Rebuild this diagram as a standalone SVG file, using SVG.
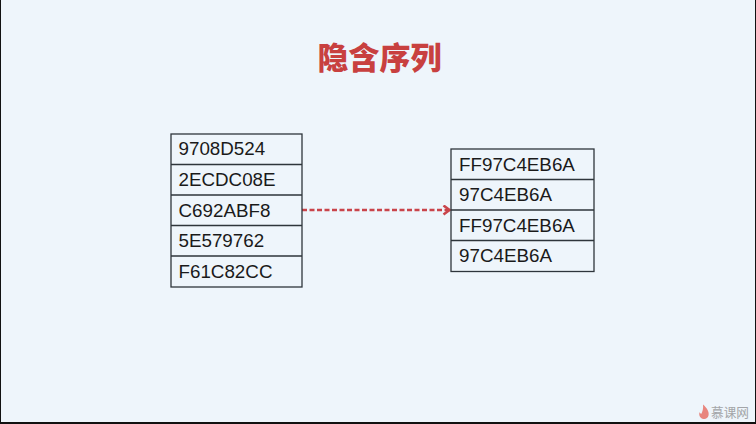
<svg xmlns="http://www.w3.org/2000/svg" width="756" height="424" viewBox="0 0 756 424">
<style>
.cell{fill:none;stroke:#2e353b;stroke-width:1.3}
.t{font-family:"Liberation Sans",Arial,sans-serif;font-size:18.8px;fill:#1a1a1a}
</style>
<defs>
<marker id="arrow" markerWidth="12" markerHeight="12" refX="9" refY="5" orient="auto" markerUnits="userSpaceOnUse"><path d="M2.500 0.500L8.500 5L2.500 9.500" fill="none" stroke="#c9444a" stroke-width="2.600"/></marker>
</defs>
<rect width="756" height="424" fill="#eef5fb"/>
<rect x="0" y="0" width="1" height="424" fill="#111"/>
<rect x="755" y="0" width="1" height="424" fill="#111"/>
<rect x="0" y="422" width="756" height="2" fill="#111"/>
<text x="379.500" y="69" text-anchor="middle" font-family="'Noto Sans CJK SC',sans-serif" font-weight="900" font-size="31" fill="#c8403f">隐含序列</text>
<g id="connectors"><line x1="302" y1="210" x2="450" y2="210" stroke="#c9444a" stroke-width="2.400" stroke-dasharray="5 2.500" marker-end="url(#arrow)"/></g>
<g id="left-table">
<rect class="cell" x="171" y="134" width="131" height="153"/>
<path class="cell" d="M171 164.500H302M171 195H302M171 225.500H302M171 256H302"/>
<text class="t" x="178.500" y="155">9708D524</text>
<text class="t" x="178.500" y="186">2ECDC08E</text>
<text class="t" x="178.500" y="217">C692ABF8</text>
<text class="t" x="178.500" y="247">5E579762</text>
<text class="t" x="178.500" y="278">F61C82CC</text>
</g>
<g id="right-table">
<rect class="cell" x="451" y="149" width="143" height="122.500"/>
<path class="cell" d="M451 179.500H594M451 210H594M451 240.500H594"/>
<text class="t" x="459" y="171">FF97C4EB6A</text>
<text class="t" x="459" y="201">97C4EB6A</text>
<text class="t" x="459" y="232">FF97C4EB6A</text>
<text class="t" x="459" y="262">97C4EB6A</text>
</g>
<g id="logo">
<path d="M703 404.500C707 408 709.500 412 708.500 415.500C708 418 705.500 419.500 703.500 419C700.500 418.500 698.500 416 699.500 412C700 413.500 701 414 701.500 413.500C702.500 411.500 703.500 408.500 703 404.500Z" fill="#e8857e"/>
<text x="711" y="417" font-family="'Noto Sans CJK SC',sans-serif" font-size="12.700" fill="#a3a5a8">慕课网</text>
</g>
</svg>
